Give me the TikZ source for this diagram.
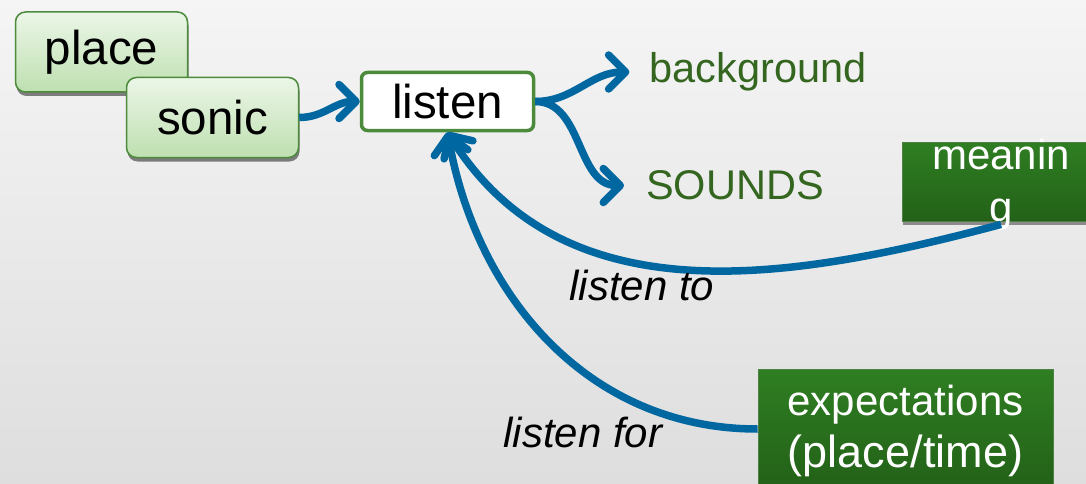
\documentclass[tikz,border=0pt]{standalone}
\usepackage{fontspec}
\setmainfont{Liberation Sans}
\usetikzlibrary{arrows.meta,shadows}

\definecolor{arrowblue}{RGB}{0,103,160}
\definecolor{boxgreen}{RGB}{75,139,59}
\definecolor{lightgreenA}{RGB}{236,246,232}
\definecolor{lightgreenB}{RGB}{190,224,176}
\definecolor{darkgreenA}{RGB}{47,126,34}
\definecolor{darkgreenB}{RGB}{35,97,24}
\definecolor{textgreen}{RGB}{52,102,32}

\begin{document}
\begin{tikzpicture}[x=1pt, y=1pt,
  font=\fontsize{47.5}{52}\selectfont,
  softbox/.style={draw=boxgreen, line width=1.5pt, rounded corners=10pt,
    top color=lightgreenA, bottom color=lightgreenB,
    minimum width=172pt, minimum height=80pt,
    drop shadow={shadow xshift=1pt, shadow yshift=-4pt, fill=black!70, opacity=0.7}},
  darkbox/.style={top color=darkgreenA, bottom color=darkgreenB, text=white,
    draw=darkgreenB!80!white, line width=0.8pt, align=center, inner ysep=0pt,
    font=\fontsize{42}{52}\selectfont},
  greentext/.style={text=textgreen, inner sep=0pt, font=\fontsize{41.5}{48}\selectfont},
  linklabel/.style={font=\itshape\fontsize{42}{48}\selectfont},
  flow/.style={draw=arrowblue, line width=7.5pt,
    -{Straight Barb[length=17pt, width=34pt, round]}}]
  %%% background %%%
  \shade[top color=black!4, bottom color=black!13] (0,0) rectangle (1086,483);
  \useasboundingbox (0,0) rectangle (1086,483);

  %%% light boxes %%%
  \node[softbox] (place) at (101.5,431) {place};
  \node[softbox] (sonic) at (212.5,365.5) {sonic};
  \node[draw=boxgreen, line width=3.5pt, rounded corners=6pt, fill=white,
    minimum width=172pt, minimum height=58pt] (listen) at (447.5,381.5) {listen};

  %%% outcomes %%%
  \node[greentext] (bg) at (758,411) {background};
  \node[greentext] (sounds) at (735,297.5) {SOUNDS};

  %%% dark boxes %%%
  \node[darkbox, minimum width=198pt, text height=79pt, text depth=-2pt,
    drop shadow={shadow xshift=1pt, shadow yshift=-4pt, fill=black!70, opacity=0.6}]
    (meaning) at (1001,301.5) {meanin\\g};
  \node[darkbox, minimum width=295pt, text height=98pt, text depth=22pt]
    (expect) at (905.5,54) {expectations\\{\fontsize{45}{53}\selectfont(place/time)}};

  %%% arrows %%%
  \draw[flow] (sonic.east) to[out=0, in=180] (listen.west);
  \draw[flow] (listen.east) to[out=0, in=180] ([xshift=-20pt]bg.west);
  \draw[flow] (listen.east) to[out=0, in=180] ([xshift=-22pt]sounds.west);
  \draw[flow] ([yshift=-3pt]meaning.south) to[out=195, in=-58] (listen.south);
  \draw[flow] (expect.west) to[out=180, in=-80] (listen.south);

  % labels
  \node[linklabel] (listento) at (642,198) {listen to};
  \node[linklabel] (listenfor) at (583,51) {listen for};
\end{tikzpicture}
\end{document}
